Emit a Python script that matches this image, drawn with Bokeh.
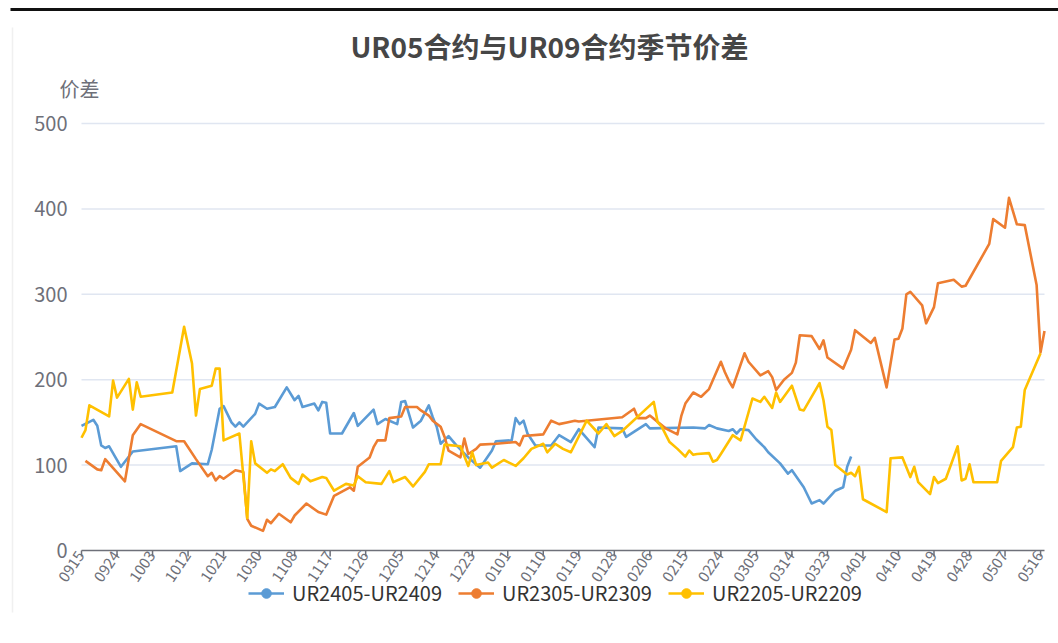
import pandas as pd
from bokeh.plotting import figure
from bokeh.models import Legend, LegendItem, Range1d, ColumnDataSource
from bokeh.core.properties import value
from bokeh.embed import file_html
from bokeh.resources import INLINE

# ---------------- data ----------------
categories = pd.date_range("2022-09-15", "2023-05-17").strftime("%m%d").tolist()

blue_name = "UR2405-UR2409"
blue_dates = ["0915","0918","0919","0920","0921","0922","0925","0928","1009","1010",
              "1013","1017","1018","1020","1021","1023","1024","1025","1026","1029",
              "1030","1101","1103","1106","1108","1109","1110","1113","1114","1115",
              "1116","1117","1120","1123","1124","1128","1129","1201","1204","1205",
              "1206","1208","1210","1212","1213","1214","1215","1217","1219","1222",
              "1225","1228","1229","0102","0103","0104","0105","0106","0108","0112",
              "0114","0117","0119","0123","0124","0130","0131","0205","0206","0217",
              "0220","0221","0223","0226","0227","0228","0301","0303","0305","0307",
              "0308","0311","0313","0314","0317","0319","0321","0322","0325","0327",
              "0328","0329"]
blue_vals = [146,153,146,123,120,122,98,116,122,93,
             102,101,118,166,169,150,145,150,145,160,
             172,166,168,191,176,181,168,172,164,174,
             173,137,137,161,146,165,148,154,148,174,
             175,144,152,170,156,145,125,134,123,109,
             97,117,128,129,155,148,152,137,123,123,
             135,127,142,121,144,143,133,148,143,144,
             143,147,143,140,142,137,142,141,130,121,
             115,102,90,94,74,55,59,55,70,74,
             98,110]

orange_name = "UR2305-UR2309"
orange_dates = ["0916","0919","0920","0921","0926","0928","0930","1009","1011","1014",
                "1017","1018","1019","1020","1021","1024","1026","1027","1028","1031",
                "1101","1102","1104","1107","1108","1111","1114","1116","1118","1122",
                "1123","1124","1127","1128","1129","1201","1202","1205","1206","1209",
                "1210","1212","1213","1215","1216","1217","1220","1221","1222","1224",
                "1225","1229","0103","0104","0105","0110","0112","0114","0116","0118",
                "0119","0130","0202","0203","0205","0206","0210","0213","0214","0215",
                "0217","0219","0221","0224","0225","0226","0227","0302","0303","0306",
                "0308","0309","0310","0312","0314","0315","0316","0319","0321","0322",
                "0323","0327","0329","0330","0403","0404","0407","0409","0410","0411",
                "0412","0413","0416","0417","0419","0420","0424","0426","0427","0503",
                "0504","0507","0508","0510","0512","0515","0516","0517"]
orange_vals = [105,95,94,107,81,135,148,128,128,107,
               87,91,82,87,84,94,92,37,29,23,
               36,32,43,33,41,55,45,42,64,74,
               70,98,109,121,129,129,155,157,168,168,
               164,158,152,145,133,117,109,131,113,119,
               124,125,127,123,134,136,152,148,150,152,
               151,156,166,155,155,158,143,136,158,172,
               185,180,189,221,209,199,191,231,221,205,
               210,203,188,200,208,220,252,251,236,246,
               226,213,235,258,243,249,191,247,248,260,
               300,303,287,266,285,313,317,309,310,359,
               388,378,413,382,381,311,232,257]

yellow_name = "UR2205-UR2209"
yellow_dates = ["0915","0916","0917","0922","0923","0924","0927","0928","0929","0930",
                "1008","1011","1013","1014","1015","1018","1019","1020","1021","1025",
                "1027","1028","1029","1101","1102","1103","1105","1107","1109","1110",
                "1112","1115","1116","1118","1121","1123","1124","1126","1130","1202",
                "1203","1206","1208","1211","1212","1215","1216","1220","1222","1223",
                "1224","1227","1228","1231","0103","0105","0107","0110","0111","0113",
                "0115","0117","0121","0124","0126","0128","0130","0207","0208","0209",
                "0211","0213","0215","0216","0217","0218","0221","0222","0223","0224",
                "0227","0301","0304","0306","0307","0309","0310","0311","0314","0316",
                "0317","0321","0322","0323","0324","0325","0328","0329","0330","0331",
                "0401","0407","0408","0411","0413","0414","0415","0418","0419","0420",
                "0422","0425","0426","0427","0428","0429","0505","0506","0509","0510",
                "0511","0512","0516"]
yellow_vals = [132,141,170,157,199,179,201,165,197,180,
               185,262,219,158,189,193,213,213,129,137,
               38,128,102,91,95,93,101,85,78,89,
               81,86,85,70,78,76,87,80,78,93,
               80,86,75,92,101,101,124,122,99,115,
               100,103,97,106,99,108,119,125,115,125,
               119,115,152,137,148,134,140,174,150,145,
               127,119,110,117,112,113,114,104,106,113,
               135,129,178,174,180,167,185,174,193,165,
               164,196,176,145,141,100,89,91,87,98,
               60,45,108,109,86,98,80,66,86,79,
               84,122,82,84,101,80,80,105,121,144,
               145,188,231]

title_text = "UR05合约与UR09合约季节价差"
y_name = "价差"
y_ticks = [0, 100, 200, 300, 400, 500]

# ---------------- layout / styling ----------------
FONT = value("Noto Sans CJK SC")
colors = {"blue": "#5B9BD5", "orange": "#ED7D31", "yellow": "#FFC000"}
GRAY = "#6E7079"
W, H = 1058, 643
PLOT_L, PLOT_R, PLOT_T, PLOT_B = 81, 1044, 123, 550      # plotting area in page pixels
n_days = len(categories) - 1
PXD = (PLOT_R - PLOT_L) / n_days                          # pixels per category
PYV = (PLOT_B - PLOT_T) / 500.0                           # pixels per value unit

def X(px):  # page pixel -> x data
    return (px - PLOT_L) / PXD

def Y(py):  # page pixel -> y data
    return (PLOT_B - py) / PYV

pos = {c: i for i, c in enumerate(categories)}
label_idx = list(range(0, len(categories), 9))

p = figure(width=W, height=H, title=None, x_axis_location=None, y_axis_location=None,
           x_range=Range1d(X(0), X(W)), y_range=Range1d(Y(H), Y(0)),
           output_backend="svg", toolbar_location=None,
           min_border_left=0, min_border_right=0, min_border_top=0, min_border_bottom=0,
           background_fill_color="white", border_fill_color="white")
p.outline_line_color = None
p.grid.visible = False

# page frame decorations
p.segment(x0=[X(10)], y0=[Y(9)], x1=[X(W)], y1=[Y(9)], line_color="#111111", line_width=3)
p.segment(x0=[X(12)], y0=[Y(27)], x1=[X(12)], y1=[Y(612)], line_color="#F0F0F0", line_width=1.5)

# y grid + labels
p.segment(x0=[0] * 5, y0=y_ticks[1:], x1=[n_days] * 5, y1=y_ticks[1:],
          line_color="#E0E6F1", line_width=1.5)
p.text(x=[X(67)] * len(y_ticks), y=y_ticks, text=[str(t) for t in y_ticks],
       text_align="right", text_baseline="middle", text_color=GRAY,
       text_font=FONT, text_font_size="20px")

# category x axis (line, ticks, rotated labels)
p.segment(x0=[0], y0=[0], x1=[n_days], y1=[0], line_color=GRAY, line_width=1.5)
tick_src = ColumnDataSource(dict(x=label_idx,
                                 y0=[0] * len(label_idx),
                                 y1=[-6 / PYV] * len(label_idx),
                                 xlab=[i - 1.0 / PXD for i in label_idx],
                                 ylab=[-2 / PYV] * len(label_idx),
                                 lab=[categories[i] for i in label_idx]))
p.segment(x0="x", y0="y0", x1="x", y1="y1", source=tick_src, line_color=GRAY, line_width=1.5)
p.text(x="xlab", y="ylab", text="lab", source=tick_src, angle=0.98,
       text_align="right", text_baseline="middle", text_color=GRAY,
       text_font=FONT, text_font_size="15px")

# titles
p.text(x=[X(549)], y=[Y(45)], text=[title_text], text_align="center", text_baseline="middle",
       text_color="#464646", text_font=FONT, text_font_size="28px", text_font_style="bold")
p.text(x=[X(79)], y=[Y(88)], text=[y_name], text_align="center", text_baseline="middle",
       text_color=GRAY, text_font=FONT, text_font_size="20px")

# series
items = []
for name, dates, vals, col in [(blue_name, blue_dates, blue_vals, colors["blue"]),
                               (orange_name, orange_dates, orange_vals, colors["orange"]),
                               (yellow_name, yellow_dates, yellow_vals, colors["yellow"])]:
    xs = [pos[d] for d in dates]
    lr = p.line(xs, vals, line_color=col, line_width=2.6, line_join="round")
    # legend marker only (its point lies outside the visible ranges)
    sr = p.scatter([-500], [-5000], marker="circle", size=14, fill_color=col, line_color=col)
    items.append(LegendItem(label=name, renderers=[lr, sr]))

legend = Legend(items=items, orientation="horizontal", location=(248, 36),
                border_line_color=None, background_fill_alpha=0,
                label_text_font="Noto Sans CJK SC", label_text_font_size="20px",
                label_text_color="#333333",
                glyph_width=36, glyph_height=24, label_standoff=8, spacing=16,
                padding=0, margin=0)
p.add_layout(legend, "center")

open("out.html", "w").write(file_html(p, INLINE))
